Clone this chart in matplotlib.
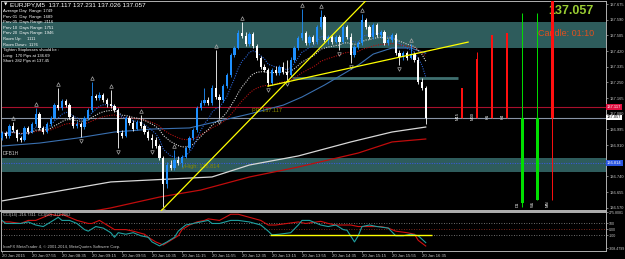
import numpy as np
import pandas as pd
import matplotlib
matplotlib.use("Agg")
import matplotlib.pyplot as plt

plt.rcParams['font.family'] = ['Liberation Sans', 'DejaVu Sans']

# EURJPY M5 candles (bar index 0 = 07:15)
opens = [136.948, 136.975, 136.959, 137.013, 136.992, 136.948, 136.937, 137.003, 136.981, 137.024,
         137.079, 137.003, 136.981, 137.024, 137.057, 137.127, 137.111, 137.149, 137.127, 137.062,
         137.013, 137.024, 137.008, 137.057, 137.100, 137.176, 137.165, 137.182, 137.155, 137.133,
         137.122, 137.100, 136.975, 136.959, 137.057, 137.030, 136.997, 137.035, 137.013, 136.981,
         136.948, 136.937, 136.905, 136.840, 136.699, 136.802, 136.786, 136.829, 136.813, 136.845,
         136.894, 136.948, 136.992, 137.111, 137.138, 137.155, 137.138, 137.220, 137.171, 137.155,
         137.230, 137.290, 137.399, 137.437, 137.518, 137.502, 137.458, 137.513, 137.447, 137.382,
         137.333, 137.317, 137.247, 137.317, 137.301, 137.333, 137.306, 137.290, 137.371, 137.437,
         137.491, 137.518, 137.464, 137.496, 137.469, 137.551, 137.605, 137.480, 137.496, 137.469,
         137.496, 137.469, 137.551, 137.496, 137.399, 137.442, 137.464, 137.588, 137.551, 137.496,
         137.561, 137.507, 137.523, 137.464, 137.480, 137.507, 137.409, 137.388, 137.409, 137.382,
         137.404, 137.371, 137.252, 137.220]
closes = [136.975, 136.959, 137.013, 136.992, 136.948, 136.937, 137.003, 136.981, 137.024, 137.079,
          137.003, 136.981, 137.024, 137.057, 137.127, 137.111, 137.149, 137.127, 137.062, 137.013,
          137.024, 137.008, 137.057, 137.100, 137.176, 137.165, 137.182, 137.155, 137.133, 137.122,
          137.100, 136.975, 136.959, 137.057, 137.030, 136.997, 137.035, 137.013, 136.981, 136.948,
          136.937, 136.905, 136.840, 136.699, 136.802, 136.786, 136.829, 136.813, 136.845, 136.894,
          136.948, 136.992, 137.111, 137.138, 137.155, 137.138, 137.220, 137.171, 137.155, 137.230,
          137.290, 137.399, 137.437, 137.518, 137.502, 137.458, 137.513, 137.447, 137.382, 137.333,
          137.317, 137.247, 137.317, 137.301, 137.333, 137.306, 137.290, 137.371, 137.437, 137.491,
          137.518, 137.464, 137.496, 137.469, 137.551, 137.605, 137.480, 137.496, 137.469, 137.496,
          137.469, 137.551, 137.496, 137.399, 137.442, 137.464, 137.588, 137.551, 137.496, 137.561,
          137.507, 137.523, 137.464, 137.480, 137.507, 137.409, 137.388, 137.409, 137.382, 137.404,
          137.371, 137.252, 137.220, 137.057]
highs = [136.986, 136.986, 137.024, 137.035, 136.997, 136.959, 137.013, 137.013, 137.035, 137.111,
         137.089, 137.013, 137.035, 137.068, 137.138, 137.220, 137.160, 137.160, 137.138, 137.073,
         137.041, 137.035, 137.068, 137.111, 137.252, 137.187, 137.198, 137.192, 137.165, 137.209,
         137.133, 137.111, 136.992, 137.068, 137.068, 137.046, 137.046, 137.073, 137.024, 136.992,
         136.970, 136.954, 136.916, 136.851, 136.818, 136.829, 136.883, 136.851, 136.856, 136.905,
         136.959, 137.003, 137.122, 137.155, 137.220, 137.171, 137.236, 137.426, 137.187, 137.241,
         137.301, 137.409, 137.447, 137.534, 137.578, 137.523, 137.523, 137.523, 137.458, 137.393,
         137.350, 137.328, 137.328, 137.339, 137.344, 137.361, 137.371, 137.388, 137.447, 137.502,
         137.648, 137.529, 137.507, 137.507, 137.561, 137.643, 137.616, 137.507, 137.507, 137.507,
         137.507, 137.561, 137.561, 137.518, 137.453, 137.475, 137.621, 137.599, 137.561, 137.572,
         137.572, 137.534, 137.534, 137.491, 137.518, 137.518, 137.426, 137.420, 137.420, 137.458,
         137.415, 137.388, 137.274, 137.231]
lows = [136.937, 136.948, 136.948, 136.981, 136.932, 136.927, 136.932, 136.970, 136.975, 137.013,
        136.992, 136.970, 136.975, 137.013, 137.051, 137.100, 137.100, 137.117, 137.051, 137.003,
        137.003, 136.954, 136.997, 137.046, 137.089, 137.155, 137.155, 137.144, 137.117, 137.111,
        137.089, 136.894, 136.948, 136.954, 137.019, 136.986, 136.992, 137.003, 136.970, 136.937,
        136.894, 136.894, 136.829, 136.574, 136.677, 136.775, 136.775, 136.802, 136.791, 136.840,
        136.883, 136.937, 136.981, 137.100, 137.127, 137.127, 137.127, 137.160, 137.057, 137.144,
        137.220, 137.279, 137.388, 137.431, 137.491, 137.447, 137.447, 137.437, 137.371, 137.323,
        137.306, 137.230, 137.236, 137.290, 137.290, 137.296, 137.263, 137.279, 137.361, 137.426,
        137.480, 137.453, 137.453, 137.458, 137.458, 137.540, 137.469, 137.458, 137.458, 137.464,
        137.426, 137.464, 137.485, 137.355, 137.388, 137.431, 137.453, 137.540, 137.485, 137.485,
        137.496, 137.491, 137.453, 137.453, 137.469, 137.399, 137.344, 137.371, 137.371, 137.377,
        137.361, 137.241, 137.209, 137.026]

fractal_up = [3, 9, 15, 24, 29, 37, 46, 57, 64, 80, 85, 96, 109]
fractal_dn = [21, 31, 40, 43, 58, 71, 76, 90, 93, 106]

# slow moving averages (bar index, price)
ma_blue_idx = [0, 10, 20, 30, 40, 50, 58, 66, 75, 80, 86, 95, 99, 104, 109, 113]
ma_blue_val = [136.905, 136.921, 136.948, 136.981, 136.997, 137.003, 137.041, 137.079, 137.127,
               137.171, 137.236, 137.344, 137.404, 137.437, 137.437, 137.409]
ma_white_idx = [0, 29, 40, 56, 66, 79, 93, 104, 113]
ma_white_val = [136.607, 136.710, 136.721, 136.737, 136.802, 136.851, 136.927, 136.981, 137.008]
ma_red_idx = [0, 26, 29, 42, 53, 66, 79, 95, 104, 113]
ma_red_val = [136.48, 136.558, 136.569, 136.628, 136.666, 136.737, 136.791, 136.867, 136.927, 136.943]

# levels
pivot = 137.117
bid = 137.057
y_high = 136.814
zone_top = (137.437, 137.578)
zone_low = (136.764, 136.840)
res_line = 137.274
trend_steep = [(42.6, 136.557), (97.2, 137.697)]
trend_flat = [(70.9, 137.230), (124.3, 137.469)]

# multi-timeframe candles at the right
tf_labels = ['M15', 'M30', 'H1', 'H4', 'D1', 'W1', 'MN']
tf_open = [137.220, 137.377, 137.507, 137.518, 136.596, 136.612, 137.80]
tf_high = [137.220, 137.415, 137.507, 137.518, 137.627, 137.627, 137.80]
tf_low = [137.057, 137.057, 137.057, 137.057, 136.574, 136.612, 136.612]

price_ticks = [137.675, 137.590, 137.505, 137.420, 137.335, 137.250, 137.165, 137.080,
               136.995, 136.910, 136.825, 136.740, 136.655, 136.570]
hidden_ticks = [136.825]  # covered by the yHigh tag

# CCI panel
cci50_idx = [0, 2, 5, 7, 9, 11, 13, 15, 16, 18, 20, 23, 24, 26, 28, 30, 31, 33, 35, 38, 39, 41, 43,
             45, 47, 48, 50, 52, 54, 55, 58, 61, 63, 66, 69, 71, 73, 76, 79, 81, 85, 87, 89, 93,
             95, 98, 101, 103, 105, 108, 110, 111, 113]
cci50_val = [120, 120, 95, 145, 145, 195, 245, 220, 245, 195, 145, 95, 95, 145, 70, -5, -5, -5, -30,
             -80, -130, -205, -255, -180, -105, -5, 70, 120, 145, 170, 145, 245, 245, 195, 145, 70,
             70, 95, 120, 95, 130, 95, 70, 70, 45, 45, 45, 20, -30, -55, -80, -180, -272]
cci14_idx = [0, 1, 4, 5, 7, 9, 11, 13, 15, 16, 18, 20, 22, 23, 25, 27, 29, 30, 31, 33, 35, 37, 39,
             40, 42, 44, 46, 47, 49, 51, 53, 55, 56, 58, 61, 63, 66, 69, 71, 72, 74, 77, 79, 80,
             82, 85, 87, 89, 91, 92, 94, 95, 96, 98, 100, 103, 105, 107, 109, 111, 113]
cci14_val = [145, 95, 95, 95, 120, 70, 45, 120, 195, 145, 145, 95, -5, -30, 45, 20, -55, -130, -55,
             -80, -55, -105, -130, -205, -270, -205, -130, -30, 70, 95, 120, 145, 95, 95, 145, 145,
             120, 70, -30, -90, -80, -55, 70, 145, 145, 70, 45, 70, -5, -15, -205, -105, 45, 70,
             45, 20, -105, -105, -80, -105, -217]
cci_levels = [100, 0, -100]
cci_trend = (71.5, 114.7, -90)
cci_ticks = [275.8081, 100, 0, -100, -308.4799]
cci_ticklabels = ['275.8081', '100', '0.00', '-100', '-308.4799']

time_labels = ['20 Jan 2015', '20 Jan 07:55', '20 Jan 08:35', '20 Jan 09:15', '20 Jan 09:55',
               '20 Jan 10:35', '20 Jan 11:15', '20 Jan 11:55', '20 Jan 12:35', '20 Jan 13:15',
               '20 Jan 13:55', '20 Jan 14:35', '20 Jan 15:15', '20 Jan 15:55', '20 Jan 16:35']

info_lines = ['Average Day  Range: 1749', 'Prev 01  Day  Range: 1689', 'Prev 05  Days Range: 2116',
              'Prev 10  Days Range: 1751', 'Prev 20  Days Range: 1946', 'Room Up:     1111',
              'Room Down:  1176', 'Tighten Stoplosses should be :', 'Long:  170 Pips at 136.69',
              'Short: 282 Pips at 137.45']

# ---------------------------------------------------------------------------
W, H = 625, 259
fig = plt.figure(figsize=(W / 100, H / 100), dpi=100, facecolor='black')


def box(x0, y0, x1, y1):
    return fig.add_axes([x0 / W, 1 - y1 / H, (x1 - x0) / W, (y1 - y0) / H])


def ptext(x, y, s, **kw):
    fig.text(x / W, 1 - y / H, s, **kw)


ax = box(0.5, 1, 606, 210.5)
ax2 = box(0.5, 211.5, 606, 250.5)
grey = '#c8c8c8'
for a in (ax, ax2):
    a.set_facecolor('black')
    a.set_xlim(-0.4, 161.07)
    for sp in a.spines.values():
        sp.set_color('#b0b0b0')
        sp.set_linewidth(0.7)
ax.spines['bottom'].set_linewidth(1.4)
ax.set_ylim(136.555, 137.692)

# zones and levels
ax.axhspan(*zone_top, color='#2e5c5c', lw=0, zorder=0)
ax.axhspan(*zone_low, color='#2e5c5c', lw=0, zorder=0)
ax.axhline(pivot, color='#a8102c', lw=0.8, zorder=1)
ax.axhline(bid, color='#8894a6', lw=0.8, zorder=1)
ax.axhline(y_high, color='#3a5ad8', lw=0.8, ls=(0, (1, 1.2)), zorder=1)
ax.hlines(res_line, 77.3, 121.6, color='#3f7070', lw=2, zorder=1)

# moving averages
s = pd.Series(closes)
ax.plot(ma_white_idx, ma_white_val, color='#d8d8d8', lw=0.9, zorder=2)
ax.plot(ma_red_idx, ma_red_val, color='#c00c0c', lw=0.9, zorder=2)
ax.plot(ma_blue_idx, ma_blue_val, color='#3a70b0', lw=0.8, zorder=2)
ax.plot(s.ewm(span=30, adjust=False).mean(), color='#b01010', lw=0.8, ls=(0, (1, 1.2)), zorder=2)
ax.plot(s.ewm(span=18, adjust=False).mean(), color='#d0d0d0', lw=0.8, ls=(0, (1, 1.2)), zorder=2)
ax.plot(s.ewm(span=8, adjust=False).mean(), color='#2a62d0', lw=0.8, ls=(0, (1, 1.2)), zorder=2)

# candles
idx = np.arange(len(closes))
o, c, h, l = map(np.array, (opens, closes, highs, lows))
col = np.where(c >= o, '#1e90ff', '#ffffff')
ax.vlines(idx, l, h, colors=col, lw=0.6, zorder=4)
ax.bar(idx, np.maximum(np.abs(c - o), 0.002), bottom=np.minimum(o, c), width=0.55,
       color=col, lw=0, zorder=5)
fu, fd = np.array(fractal_up), np.array(fractal_dn)
ax.plot(fu, h[fu] + 0.022, ls='none', marker='^', ms=2.6, mfc='none', mec='#a8a8a8', mew=0.5, zorder=5)
ax.plot(fd, l[fd] - 0.022, ls='none', marker='v', ms=2.6, mfc='none', mec='#a8a8a8', mew=0.5, zorder=5)

# trendlines
ax.axline(*trend_steep, color='#ffff00', lw=0.9, zorder=6)
ax.plot(*zip(*trend_flat), color='#ffff00', lw=0.9, zorder=6)

# big price and candle timer (drawn under the MN bar)
ax.text(548 / W, 1 - 11 / H, '137.057', transform=fig.transFigure, fontsize=9, weight='bold',
        color='#9acd32', va='center', ha='left', zorder=3)
ax.text(538 / W, 1 - 34 / H, 'Candle: 01:10', transform=fig.transFigure, fontsize=6.5,
        color='#e0501e', va='center', ha='left', zorder=3)

# multi timeframe bars
tf_pos = 122.7 + 4 * np.arange(len(tf_labels))
for k, lab in enumerate(tf_labels):
    x = tf_pos[k]
    colr = '#ff1010' if tf_open[k] > bid else '#00e000'
    w = 0.53 if k < 4 else 0.8
    ax.vlines(x, tf_low[k], tf_high[k], colors=colr, lw=0.7, zorder=7)
    ax.bar(x, abs(tf_open[k] - bid), bottom=min(tf_open[k], bid), width=w, color=colr, lw=0, zorder=7)
    ly = 137.068 if k < 4 else 136.590
    ax.text(x - 1.15, ly, lab, rotation=90, fontsize=3, color='white', ha='center', va='center', zorder=8)

# labels on chart
ax.text(66.7, 137.100, 'PP  137.117', fontsize=4, color='#8a8a00', va='center', zorder=3)
ax.text(48, 136.796, 'yHigh: 136.814', fontsize=4, color='#8a8a00', va='center', zorder=3)
ax.text(0.3, 136.862, 'DFB1H', fontsize=3.6, color='#c0c0c0', va='center', zorder=3)

# price axis
ax.set_xticks([])
ax.yaxis.tick_right()
ax.set_yticks(price_ticks)
ax.set_yticklabels(['' if v in hidden_ticks else '%.3f' % v for v in price_ticks])
ax.tick_params(axis='y', colors='#b0b0b0', labelcolor=grey, labelsize=2.85, length=1.5, width=0.5, pad=1.2)

# tags on the price axis
ptext(607, 107, '137.117', fontsize=2.85, color='white', va='center',
      bbox=dict(boxstyle='square,pad=0.25', fc='#e01040', ec='none'))
ptext(607, 117.5, '137.057', fontsize=2.85, color='black', va='center',
      bbox=dict(boxstyle='square,pad=0.25', fc='white', ec='none'))
ptext(607, 163, '136.814', fontsize=2.85, color='white', va='center',
      bbox=dict(boxstyle='square,pad=0.25', fc='#2a55e0', ec='none'))

# info block
ptext(3.5, 5, '\u25bc', fontsize=3.2, color='white', va='center', family='DejaVu Sans')
ptext(10, 5, 'EURJPY,M5  137.117 137.231 137.026 137.057', fontsize=4.6, color='white', va='center')
for n, line in enumerate(info_lines):
    ptext(3, 11 + 5.6 * n, line, fontsize=3.0, color='white', va='center')

# CCI panel
ax2.set_ylim(-345, 290)
for lv in cci_levels:
    ax2.axhline(lv, color='#a03020' if lv == 0 else '#909090', lw=0.6, ls=(0, (1, 2)))
ax2.plot(cci50_idx, cci50_val, color='#d01010', lw=0.8)
ax2.plot(cci14_idx, cci14_val, color='#1fa0a0', lw=0.8)
ax2.hlines(cci_trend[2], cci_trend[0], cci_trend[1], color='#ffff00', lw=1)
ax2.yaxis.tick_right()
ax2.set_yticks(cci_ticks)
ax2.set_yticklabels(cci_ticklabels)
ax2.tick_params(axis='y', colors='#b0b0b0', labelcolor=grey, labelsize=2.6, length=1.2, width=0.5, pad=0.8)
ax2.set_xticks(np.arange(0, 113, 8))
ax2.set_xticklabels(time_labels, ha='left')
ax2.tick_params(axis='x', colors='#b0b0b0', labelcolor=grey, labelsize=3.1, length=1.5, width=0.5, pad=1)
ptext(3, 215, 'CCI(14) -216.7311  CCI(50) -272.2062', fontsize=2.8, color=grey, va='center')
ptext(3, 247, 'IronFX MetaTrader 4, \u00a9 2001-2014, MetaQuotes Software Corp.', fontsize=3,
      color=grey, va='center')

fig.savefig('out.png', dpi=100, facecolor='black')
